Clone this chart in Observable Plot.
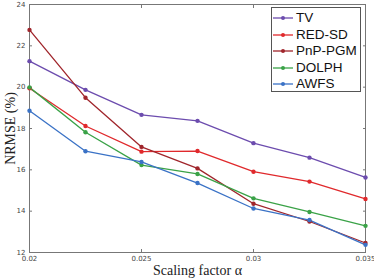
<!DOCTYPE html>
<html>
<head>
<meta charset="utf-8">
<script src="https://cdn.jsdelivr.net/npm/d3@7"></script>
<script src="https://cdn.jsdelivr.net/npm/@observablehq/plot@0.6"></script>
<style>
  html, body { margin: 0; padding: 0; background: #fff; }
  #wrap { position: relative; width: 374px; height: 280px; }
  #legend { position: absolute; left: 271px; top: 7px; width: 90px; height: 85px; border: 1px solid #555; background: #fff; box-sizing: border-box; font-family: "Liberation Sans", Arial, sans-serif; font-size: 13.5px; color: #111; }
  .row { position: absolute; left: 0; height: 16px; display: flex; align-items: center; }
  .row svg { display: block; }
  .row span { margin-left: 2px; line-height: 16px; }
</style>
</head>
<body>
<div id="wrap"></div>
<script>
const alphas = [0.02, 0.0225, 0.025, 0.0275, 0.03, 0.0325, 0.035];
const methods = ["TV", "RED-SD", "PnP-PGM", "DOLPH", "AWFS"];
const colors = ["#6c4cae", "#e0292c", "#a0252b", "#3aa247", "#3a72c6"];
const tvValues = [21.26, 19.87, 18.66, 18.37, 17.29, 16.59, 15.63];
const redsdValues = [19.95, 18.12, 16.88, 16.91, 15.91, 15.43, 14.59];
const pnpValues = [22.77, 19.49, 17.11, 16.07, 14.36, 13.50, 12.46];
const dolphValues = [19.99, 17.82, 16.23, 15.80, 14.62, 13.96, 13.29];
const awfsValues = [18.86, 16.90, 16.38, 15.36, 14.13, 13.57, 12.37];
const xTicks = [0.02, 0.025, 0.03, 0.035];
const yTicks = [12, 14, 16, 18, 20, 22, 24];

const series = [tvValues, redsdValues, pnpValues, dolphValues, awfsValues];
const data = [];
series.forEach((vals, i) => vals.forEach((v, j) => data.push({method: methods[i], alpha: alphas[j], nrmse: v})));

const chart = Plot.plot({
  width: 374,
  height: 280,
  marginLeft: 29,
  marginRight: 9,
  marginTop: 4,
  marginBottom: 28,
  style: {background: "#fff", overflow: "visible"},
  x: {domain: [0.02, 0.035]},
  y: {domain: [12, 24]},
  color: {domain: methods, range: colors},
  marks: [
    Plot.frame({stroke: "#777", strokeWidth: 1}),
    Plot.axisX({ticks: xTicks, tickFormat: d => String(d), tickSize: -3, tickPadding: 6.5, stroke: "#777", fill: "#444", fontSize: 7, fontFamily: "DejaVu Sans, sans-serif", label: null}),
    Plot.axisX({anchor: "top", ticks: xTicks, tickSize: -3, text: null, stroke: "#777", label: null}),
    Plot.axisY({ticks: yTicks, tickSize: -3, tickPadding: 7, stroke: "#777", fill: "#444", fontSize: 7, fontFamily: "DejaVu Sans, sans-serif", label: null}),
    Plot.axisY({anchor: "right", ticks: yTicks, tickSize: -3, text: null, stroke: "#777", label: null}),
    Plot.line(data, {x: "alpha", y: "nrmse", z: "method", stroke: "method", strokeWidth: 1.3}),
    Plot.dot(data, {x: "alpha", y: "nrmse", fill: "method", r: 2.2}),
    Plot.text(["Scaling factor \u03b1"], {frameAnchor: "bottom", textAnchor: "middle", dy: 22, fontSize: 14, fontFamily: "Liberation Serif, serif", fill: "#222"}),
    Plot.text(["NRMSE (%)"], {frameAnchor: "left", textAnchor: "middle", dx: -19, rotate: -90, fontSize: 14, fontFamily: "Liberation Serif, serif", fill: "#222"})
  ]
});

const wrap = document.getElementById("wrap");
wrap.appendChild(chart);

const legend = document.createElement("div");
legend.id = "legend";
methods.forEach((m, i) => {
  const row = document.createElement("div");
  row.className = "row";
  row.style.top = (2 + i * 16.6) + "px";
  row.innerHTML = `<svg width="22" height="16"><line x1="1" x2="21" y1="8" y2="8" stroke="${colors[i]}" stroke-width="1.3"/><circle cx="11" cy="8" r="2" fill="${colors[i]}"/></svg><span>${m}</span>`;
  legend.appendChild(row);
});
wrap.appendChild(legend);
</script>
</body>
</html>
